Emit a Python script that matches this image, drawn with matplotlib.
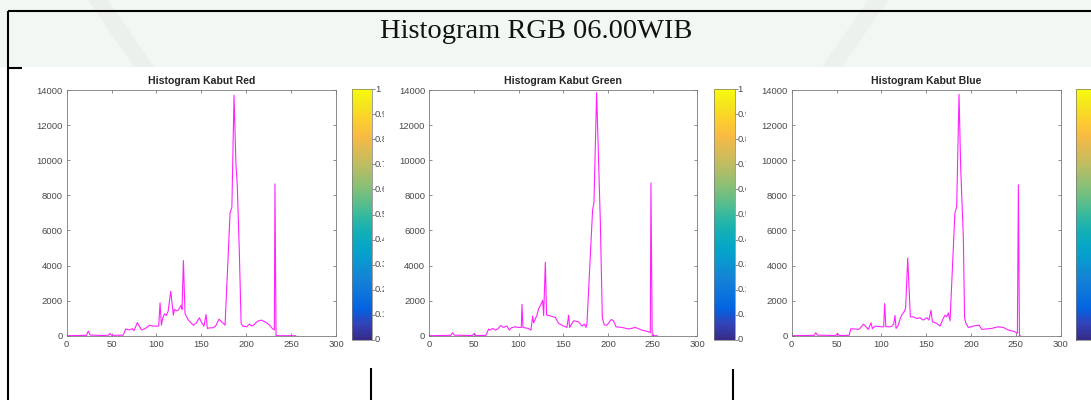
import matplotlib

matplotlib.use("Agg")
import matplotlib.pyplot as plt
from matplotlib.cm import ScalarMappable
from matplotlib.colors import LinearSegmentedColormap, Normalize
from matplotlib.patches import Polygon, Rectangle
from matplotlib.transforms import Bbox, TransformedBbox, offset_copy

W, H = 1091, 400
INK = "#262626"
TICK = "#4a4a4a"
LINE = "#ff22ff"

SUPTITLE = "Histogram RGB 06.00WIB"
TITLES = ["Histogram Kabut Red", "Histogram Kabut Green", "Histogram Kabut Blue"]

# histogram traces (intensity level, pixel count)
red_x = [0, 22, 24, 26, 40, 47, 48, 50, 63, 65.7, 68, 70, 73, 75, 78.7, 80, 83.5, 88, 92,
         96.5, 102.5, 104, 105.5, 107, 109, 111, 113, 115.9, 118.8, 120, 122, 124, 126,
         127.5, 128.5, 130, 131.8, 135.5, 141, 144, 147.8, 150.4, 153, 155.2, 156.7, 160,
         163, 166, 169.7, 172, 174.5, 176.4, 182, 184, 186.4, 188.5, 190, 192.3, 194.3,
         196, 200.5, 203.5, 206, 208, 212.8, 217, 222.8, 226, 229, 231.3, 232, 233.2,
         240, 255]
red_y = [0, 20, 260, 40, 10, 30, 130, 20, 30, 380, 350, 330, 400, 290, 750, 620, 330, 420,
         600, 540, 550, 1870, 600, 1000, 1250, 1150, 1400, 2530, 1170, 1500, 1420, 1450,
         1600, 1740, 1500, 4280, 1260, 890, 600, 700, 1020, 736, 550, 1210, 415, 450, 450,
         560, 945, 820, 700, 600, 7000, 7300, 13700, 9800, 8600, 4800, 700, 550, 510, 660,
         550, 600, 830, 890, 736, 600, 415, 320, 8650, 0, 0, 0]

green_x = [0, 24, 26, 28, 48, 50.4, 52, 63.4, 66.4, 68, 71, 74, 77, 80, 83, 87, 89.5, 91.8,
           96, 100, 103, 103.7, 104.9, 111, 113.8, 115.7, 116.8, 120.5, 122.4, 124, 126.9,
           128, 129.9, 131.3, 135.4, 141, 144.8, 150.4, 154, 156, 157, 161.6, 167, 171,
           173.5, 175.4, 176.5, 182.8, 184.3, 187.3, 191.5, 193.7, 196, 198.9, 203.7, 206.3,
           209, 215.7, 223, 230.6, 238, 245.5, 247.4, 248.1, 249.5, 255]
green_y = [0, 20, 170, 30, 10, 130, 10, 20, 380, 320, 415, 320, 400, 585, 470, 550, 320, 450,
           510, 470, 470, 1790, 470, 415, 320, 1110, 735, 1170, 1550, 1680, 2020, 1150, 4190,
           1170, 1130, 1040, 700, 550, 470, 1170, 470, 850, 790, 550, 660, 470, 700, 7180,
           7560, 13850, 6400, 1000, 610, 600, 925, 850, 510, 470, 380, 470, 320, 226, 170,
           8700, 0, 0]

blue_x = [0, 25, 26.8, 28.5, 49, 51, 53, 64, 66, 75, 77, 80, 82, 85.5, 88.5, 90, 93, 98.5,
          102.6, 103.7, 105, 110.8, 113.8, 115.2, 116.4, 119, 121, 122.7, 125.3, 127, 129.4,
          132.3, 135.7, 139.4, 143, 146.8, 150.6, 153, 155.4, 156.9, 161.7, 165.4, 169, 171,
          172.9, 174.7, 176.6, 182, 184, 186.6, 188.5, 191.4, 192.8, 194.4, 197, 202.6, 209,
          212, 223, 230.5, 236, 241.6, 249, 251.7, 252.8, 254, 255]
blue_y = [0, 20, 170, 30, 10, 130, 10, 20, 400, 360, 470, 660, 550, 360, 735, 400, 550, 510,
          510, 1830, 510, 510, 660, 1150, 415, 600, 980, 1170, 1360, 1550, 4430, 1075, 1075,
          980, 1020, 890, 1020, 890, 1450, 790, 700, 550, 980, 1170, 1075, 1300, 850, 6990,
          7350, 13750, 9500, 5650, 1000, 700, 470, 550, 600, 360, 415, 510, 470, 320, 226,
          130, 8600, 0, 0]

X_TICKS = [0, 50, 100, 150, 200, 250, 300]
Y_TICKS = [0, 2000, 4000, 6000, 8000, 10000, 12000, 14000]
CB_TICKS = [0, 0.1, 0.2, 0.3, 0.4, 0.5, 0.6, 0.7, 0.8, 0.9, 1]
CB_LABELS = ["0", "0.1", "0.2", "0.3", "0.4", "0.5", "0.6", "0.7", "0.8", "0.9", "1"]

# parula, every fourth entry of the 64-colour table
PARULA = [
    (0.2081, 0.1663, 0.5292), (0.1959, 0.2645, 0.7279), (0.0117, 0.3875, 0.8820),
    (0.0498, 0.4586, 0.8641), (0.0793, 0.5200, 0.8312), (0.0343, 0.5966, 0.8199),
    (0.0228, 0.6535, 0.7768), (0.0843, 0.6928, 0.7062), (0.2178, 0.7250, 0.6193),
    (0.3953, 0.7459, 0.5244), (0.5709, 0.7485, 0.4494), (0.7184, 0.7411, 0.3905),
    (0.8507, 0.7299, 0.3360), (0.9738, 0.7314, 0.2666), (0.9880, 0.8066, 0.1794),
    (0.9589, 0.8949, 0.1132), (0.9763, 0.9831, 0.0538),
]
parula = LinearSegmentedColormap.from_list("parula", PARULA)

# pixel boxes (left, top, right, bottom)
AX_BOXES = [(66.7, 90, 336, 335.7), (429.3, 90, 697.3, 335.7), (791.7, 90, 1060.7, 335.7)]
CB_BOXES = [(352, 89, 372, 340), (714, 89, 734.5, 340), (1076, 89, 1096, 340)]


def rect(box):
    l, t, r, b = box
    return [l / W, 1 - b / H, (r - l) / W, (b - t) / H]


def histogram_panel(ax, xs, ys, title):
    ax.plot(xs, ys, color=LINE, lw=0.8)
    ax.set_xlim(0, 300)
    ax.set_ylim(0, 14000)
    ax.set_xticks(X_TICKS)
    ax.set_yticks(Y_TICKS)
    ax.tick_params(direction="in", length=2.5, width=0.5, colors="#606060",
                   labelcolor=TICK, labelsize=6.8, pad=3,
                   top=True, right=True)
    for lab in ax.get_xticklabels() + ax.get_yticklabels():
        lab.set_fontfamily("Liberation Sans")
    for s in ax.spines.values():
        s.set_color("#7a7a7a")
        s.set_linewidth(0.6)
    ax.set_title(title, fontsize=7.6, fontweight="bold", color=INK,
                 family="Liberation Sans", pad=4)


def colorbar_panel(fig, box):
    cax = fig.add_axes(rect(box))
    cb = fig.colorbar(ScalarMappable(norm=Normalize(0, 1), cmap=parula), cax=cax)
    cb.outline.set_edgecolor("#7a7a7a")
    cb.outline.set_linewidth(0.5)
    cb.set_ticks(CB_TICKS)
    cax.tick_params(direction="out", length=2, width=0.5, colors="#606060", labelright=False)
    if box[2] + 12 > W:
        return
    # labels are cut short a few pixels right of the bar
    clip = TransformedBbox(Bbox([[0, 0], [(box[2] + 11.5) / W, 1]]), fig.transFigure)
    trans = offset_copy(cax.get_yaxis_transform(), fig=fig, x=3, y=0, units="dots")
    for v, s in zip(CB_TICKS, CB_LABELS):
        t = cax.text(1.0, v, s, transform=trans, ha="left", va="center",
                     fontsize=6.8, color=TICK, family="Liberation Sans")
        t.set_clip_box(clip)
        t.set_clip_on(True)


def main():
    fig = plt.figure(figsize=(W / 100, H / 100), dpi=100)
    fig.patch.set_facecolor("white")

    bg = fig.add_axes([0, 0, 1, 1], zorder=-10)
    bg.set_xlim(0, W)
    bg.set_ylim(H, 0)
    bg.axis("off")
    bg.add_patch(Rectangle((0, 0), W, 67, color="#f1f7f2", lw=0))
    bg.add_patch(Polygon([(88, 0), (108, 0), (154, 67), (134, 67)], color="#ebf0ec", lw=0))
    bg.add_patch(Polygon([(868, 0), (888, 0), (842, 67), (822, 67)], color="#ecf1ed", lw=0))
    frame = dict(color="black", lw=1.5, solid_capstyle="butt")
    bg.plot([8, W], [11, 11], **frame)
    bg.plot([8, 8], [11, H], **frame)
    bg.plot([8, 22], [67.5, 67.5], **frame)
    bg.plot([371, 371], [368, H], **frame)
    bg.plot([733, 733], [369, H], **frame)
    bg.text(536, 38.5, SUPTITLE, ha="center", va="baseline", fontsize=20.5,
            family="Liberation Serif", color="#111111")

    series = [(red_x, red_y), (green_x, green_y), (blue_x, blue_y)]
    for (xs, ys), title, abox, cbox in zip(series, TITLES, AX_BOXES, CB_BOXES):
        ax = fig.add_axes(rect(abox))
        histogram_panel(ax, xs, ys, title)
        colorbar_panel(fig, cbox)

    fig.savefig("out.png", dpi=100, facecolor="white")
    plt.close(fig)


if __name__ == "__main__":
    main()
